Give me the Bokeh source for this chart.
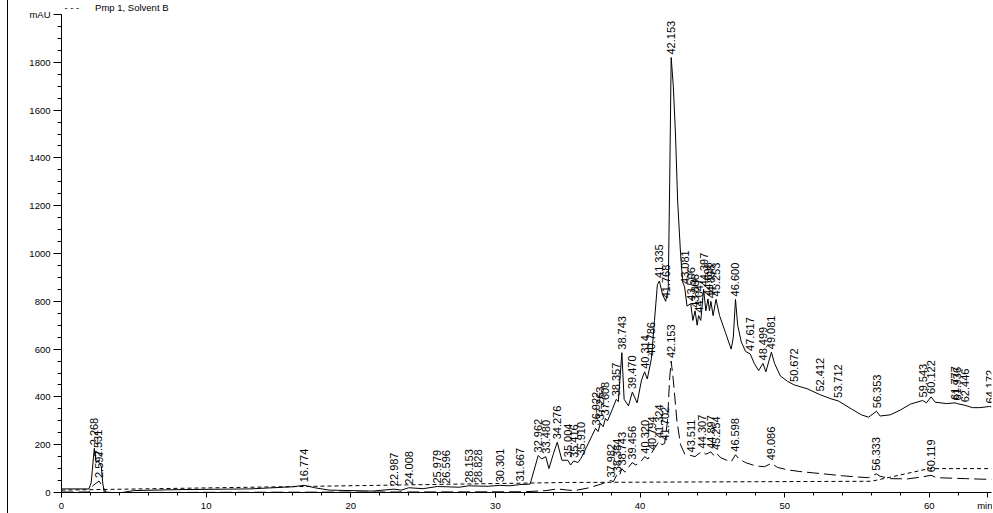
import numpy as np
from bokeh.plotting import figure
from bokeh.layouts import row
from bokeh.models import FixedTicker, SingleIntervalTicker, ColumnDataSource, Range1d, Div
from bokeh.embed import file_html
from bokeh.resources import INLINE
from bokeh.core.properties import value

# ---- main signal (solid) ----
solid_t = [0, 1.9, 2.05, 2.268, 2.4, 2.531, 2.597, 2.75, 2.85, 2.95, 3.5, 4.2, 5.0, 8.0, 13.0, 16.0,
           16.774, 17.5, 18.5, 21.5, 22.987, 23.5, 24.008, 25.0, 25.979, 26.596, 27.5, 28.153, 28.828,
           29.5, 30.301, 31.0, 31.667, 32.4, 32.962, 33.2, 33.480, 33.7, 34.0, 34.276, 34.6, 35.004,
           35.2, 35.416, 35.7, 35.910, 36.3, 36.7, 36.922, 37.1, 37.263, 37.45, 37.608, 37.75, 38.1,
           38.357, 38.5, 38.743, 38.9, 39.2, 39.470, 39.8, 40.1, 40.314, 40.5, 40.786, 41.0, 41.2,
           41.335, 41.55, 41.768, 41.95, 42.05, 42.153, 42.3, 42.45, 42.6, 42.8, 42.95, 43.081, 43.25,
           43.506, 43.65, 43.806, 43.95, 44.047, 44.2, 44.397, 44.55, 44.698, 44.8, 44.898, 45.05,
           45.253, 45.5, 45.9, 46.3, 46.45, 46.600, 46.75, 47.0, 47.3, 47.617, 47.9, 48.2, 48.499,
           48.7, 49.081, 49.3, 49.7, 50.2, 50.672, 51.6, 52.412, 53.2, 53.712, 54.6, 55.3, 55.8,
           56.353, 56.6, 57.3, 58.0, 58.7, 59.543, 59.8, 60.122, 60.4, 61.2, 61.777, 61.936, 62.446,
           63.0, 63.5, 64.172, 64.3]
solid_y = [15, 15, 40, 185, 125, 135, 125, 110, 40, 2, 0, 0, 8, 12, 15, 24,
           30, 20, 10, 6, 14, 10, 20, 16, 25, 24, 22, 28, 27,
           26, 30, 28, 33, 35, 155, 140, 150, 100, 160, 210, 135, 135,
           115, 132, 125, 142, 190, 240, 268, 255, 290, 275, 310, 300, 350,
           390, 380, 585, 390, 362, 420, 375, 470, 505, 475, 560, 720, 870,
           885, 830, 800, 850, 1300, 1820, 1700, 1500, 1220, 1000, 880, 860, 780,
           790, 720, 760, 700, 740, 720, 850, 760, 810, 760, 800, 740,
           808, 740, 670, 600, 650, 808, 700, 630, 590, 580, 540, 510, 540,
           505, 587, 540, 488, 465, 450, 433, 410, 392, 383, 350, 325, 315,
           340, 320, 325, 345, 370, 385, 375, 400, 378, 372, 375, 372, 365,
           355, 355, 360, 358]

# ---- second signal (long dash) ----
dash_t = [0, 1.9, 2.2, 2.597, 2.9, 3.1, 4.0, 32.0, 33.5, 34.3, 35.0, 35.5, 36.5, 37.3, 37.982, 38.15,
          38.384, 38.55, 38.743, 38.95, 39.2, 39.456, 39.7, 40.0, 40.320, 40.55, 40.794, 41.0, 41.324,
          41.5, 41.702, 41.9, 42.05, 42.153, 42.3, 42.55, 42.8, 43.1, 43.511, 43.8, 44.0, 44.307, 44.55,
          44.897, 45.1, 45.254, 45.6, 46.0, 46.3, 46.598, 46.85, 47.3, 47.8, 48.2, 48.6, 49.086, 49.5,
          50.2, 51.0, 52.0, 53.0, 54.0, 55.0, 55.8, 56.333, 56.6, 57.3, 58.5, 59.5, 60.119, 60.5, 61.5,
          62.5, 63.5, 64.3]
dash_y = [2, 2, 30, 48, 20, 0, 0, 3, 8, 15, 10, 8, 20, 35, 50, 45,
          72, 65, 100, 85, 105, 125, 115, 125, 150, 140, 165, 185, 215,
          200, 205, 300, 480, 550, 470, 300, 200, 160, 155, 150, 160, 172, 160,
          170, 155, 165, 145, 135, 128, 158, 140, 125, 115, 110, 108, 122, 105,
          95, 88, 82, 76, 70, 65, 62, 78, 68, 58, 57, 65, 72, 62, 60,
          58, 56, 55]

# ---- pump solvent B (short dash) ----
pmp_t = [0, 35, 56, 60, 64.3]
pmp_y = [10, 42, 47, 100, 100]

# ---- peak labels ----
solid_peaks = [2.268, 2.531, 16.774, 22.987, 24.008, 25.979, 26.596, 28.153, 28.828, 30.301, 31.667,
               32.962, 33.480, 34.276, 35.004, 35.416, 35.910, 36.922, 37.263, 37.608, 38.357, 38.743,
               39.470, 40.314, 40.786, 41.335, 41.768, 42.153, 43.081, 43.506, 43.806, 44.047, 44.397,
               44.698, 44.898, 45.253, 46.600, 47.617, 48.499, 49.081, 50.672, 52.412, 53.712, 56.353,
               59.543, 60.122, 61.777, 61.936, 62.446, 64.172]
dash_peaks = [2.597, 37.982, 38.384, 38.743, 39.456, 40.320, 40.794, 41.324, 41.702, 42.153, 43.511,
              44.307, 44.897, 45.254, 46.598, 49.086, 56.333, 60.119]

# ---- axis ticks ----
x_major_ticks = [0, 10, 20, 30, 40, 50, 60, 64]
x_tick_labels = {64: "min"}
x_minor_ticks = list(range(0, 66, 2))
y_tick_labels = {2000: "mAU"}
caption = "- - -\u00a0\u00a0\u00a0\u00a0\u00a0\u00a0Pmp 1, Solvent B"

x_start, x_end = 0, 64.3
y_start, y_end = 0, 2000

p = figure(width=984, height=513, x_range=Range1d(x_start, x_end), y_range=Range1d(y_start, y_end),
           output_backend="svg", toolbar_location=None,
           min_border_left=53, min_border_right=1, min_border_top=14, min_border_bottom=19)
p.outline_line_color = None
p.xgrid.visible = False
p.ygrid.visible = False
p.background_fill_color = "white"
p.border_fill_color = "white"

p.title.text = caption
p.title.text_font = "Liberation Sans"
p.title.text_font_size = "9.5px"
p.title.text_font_style = "normal"
p.title.text_color = "black"
p.title.align = "left"
p.title.vertical_align = "top"
p.title.offset = 3
p.title.standoff = 0

for ax in (p.xaxis[0], p.yaxis[0]):
    ax.axis_line_color = "black"
    ax.major_tick_line_color = "black"
    ax.minor_tick_line_color = "black"
    ax.major_tick_in = 0
    ax.minor_tick_in = 0
    ax.major_label_text_font = "Liberation Sans"
    ax.major_label_text_font_size = "9.5px"
    ax.major_label_text_color = "black"

p.xaxis.ticker = FixedTicker(ticks=x_major_ticks, minor_ticks=x_minor_ticks)
p.xaxis.major_label_overrides = x_tick_labels
p.xaxis.major_tick_out = 5
p.xaxis.minor_tick_out = 3
p.xaxis.major_label_standoff = 2

p.yaxis.ticker = SingleIntervalTicker(interval=200, num_minor_ticks=4)
p.yaxis.major_tick_out = 8
p.yaxis.minor_tick_out = 4
p.yaxis.major_label_standoff = 3
p.yaxis.major_label_overrides = y_tick_labels

p.line(solid_t, solid_y, line_color="black", line_width=1)
p.line(dash_t, dash_y, line_color="black", line_width=1, line_dash="12 5")
p.line(pmp_t, pmp_y, line_color="black", line_width=1, line_dash="4 3")

lab_font = value("Liberation Sans")
src_s = ColumnDataSource(dict(x=solid_peaks, y=np.interp(solid_peaks, solid_t, solid_y),
                              text=[f"{v:.3f}" for v in solid_peaks]))
src_d = ColumnDataSource(dict(x=dash_peaks, y=np.interp(dash_peaks, dash_t, dash_y),
                              text=[f"{v:.3f}" for v in dash_peaks]))
for src in (src_s, src_d):
    p.text(x="x", y="y", text="text", source=src, angle=np.pi / 2, text_align="left",
           text_baseline="middle", y_offset=-3, text_font=lab_font, text_font_size="11px",
           text_color="black")

# page border line on the left
border = Div(text="", width=8, height=513,
             styles={"border-right": "1px solid black", "margin": "0", "padding": "0"})

layout = row(border, p, spacing=0)
open("out.html", "w").write(file_html(layout, INLINE))
